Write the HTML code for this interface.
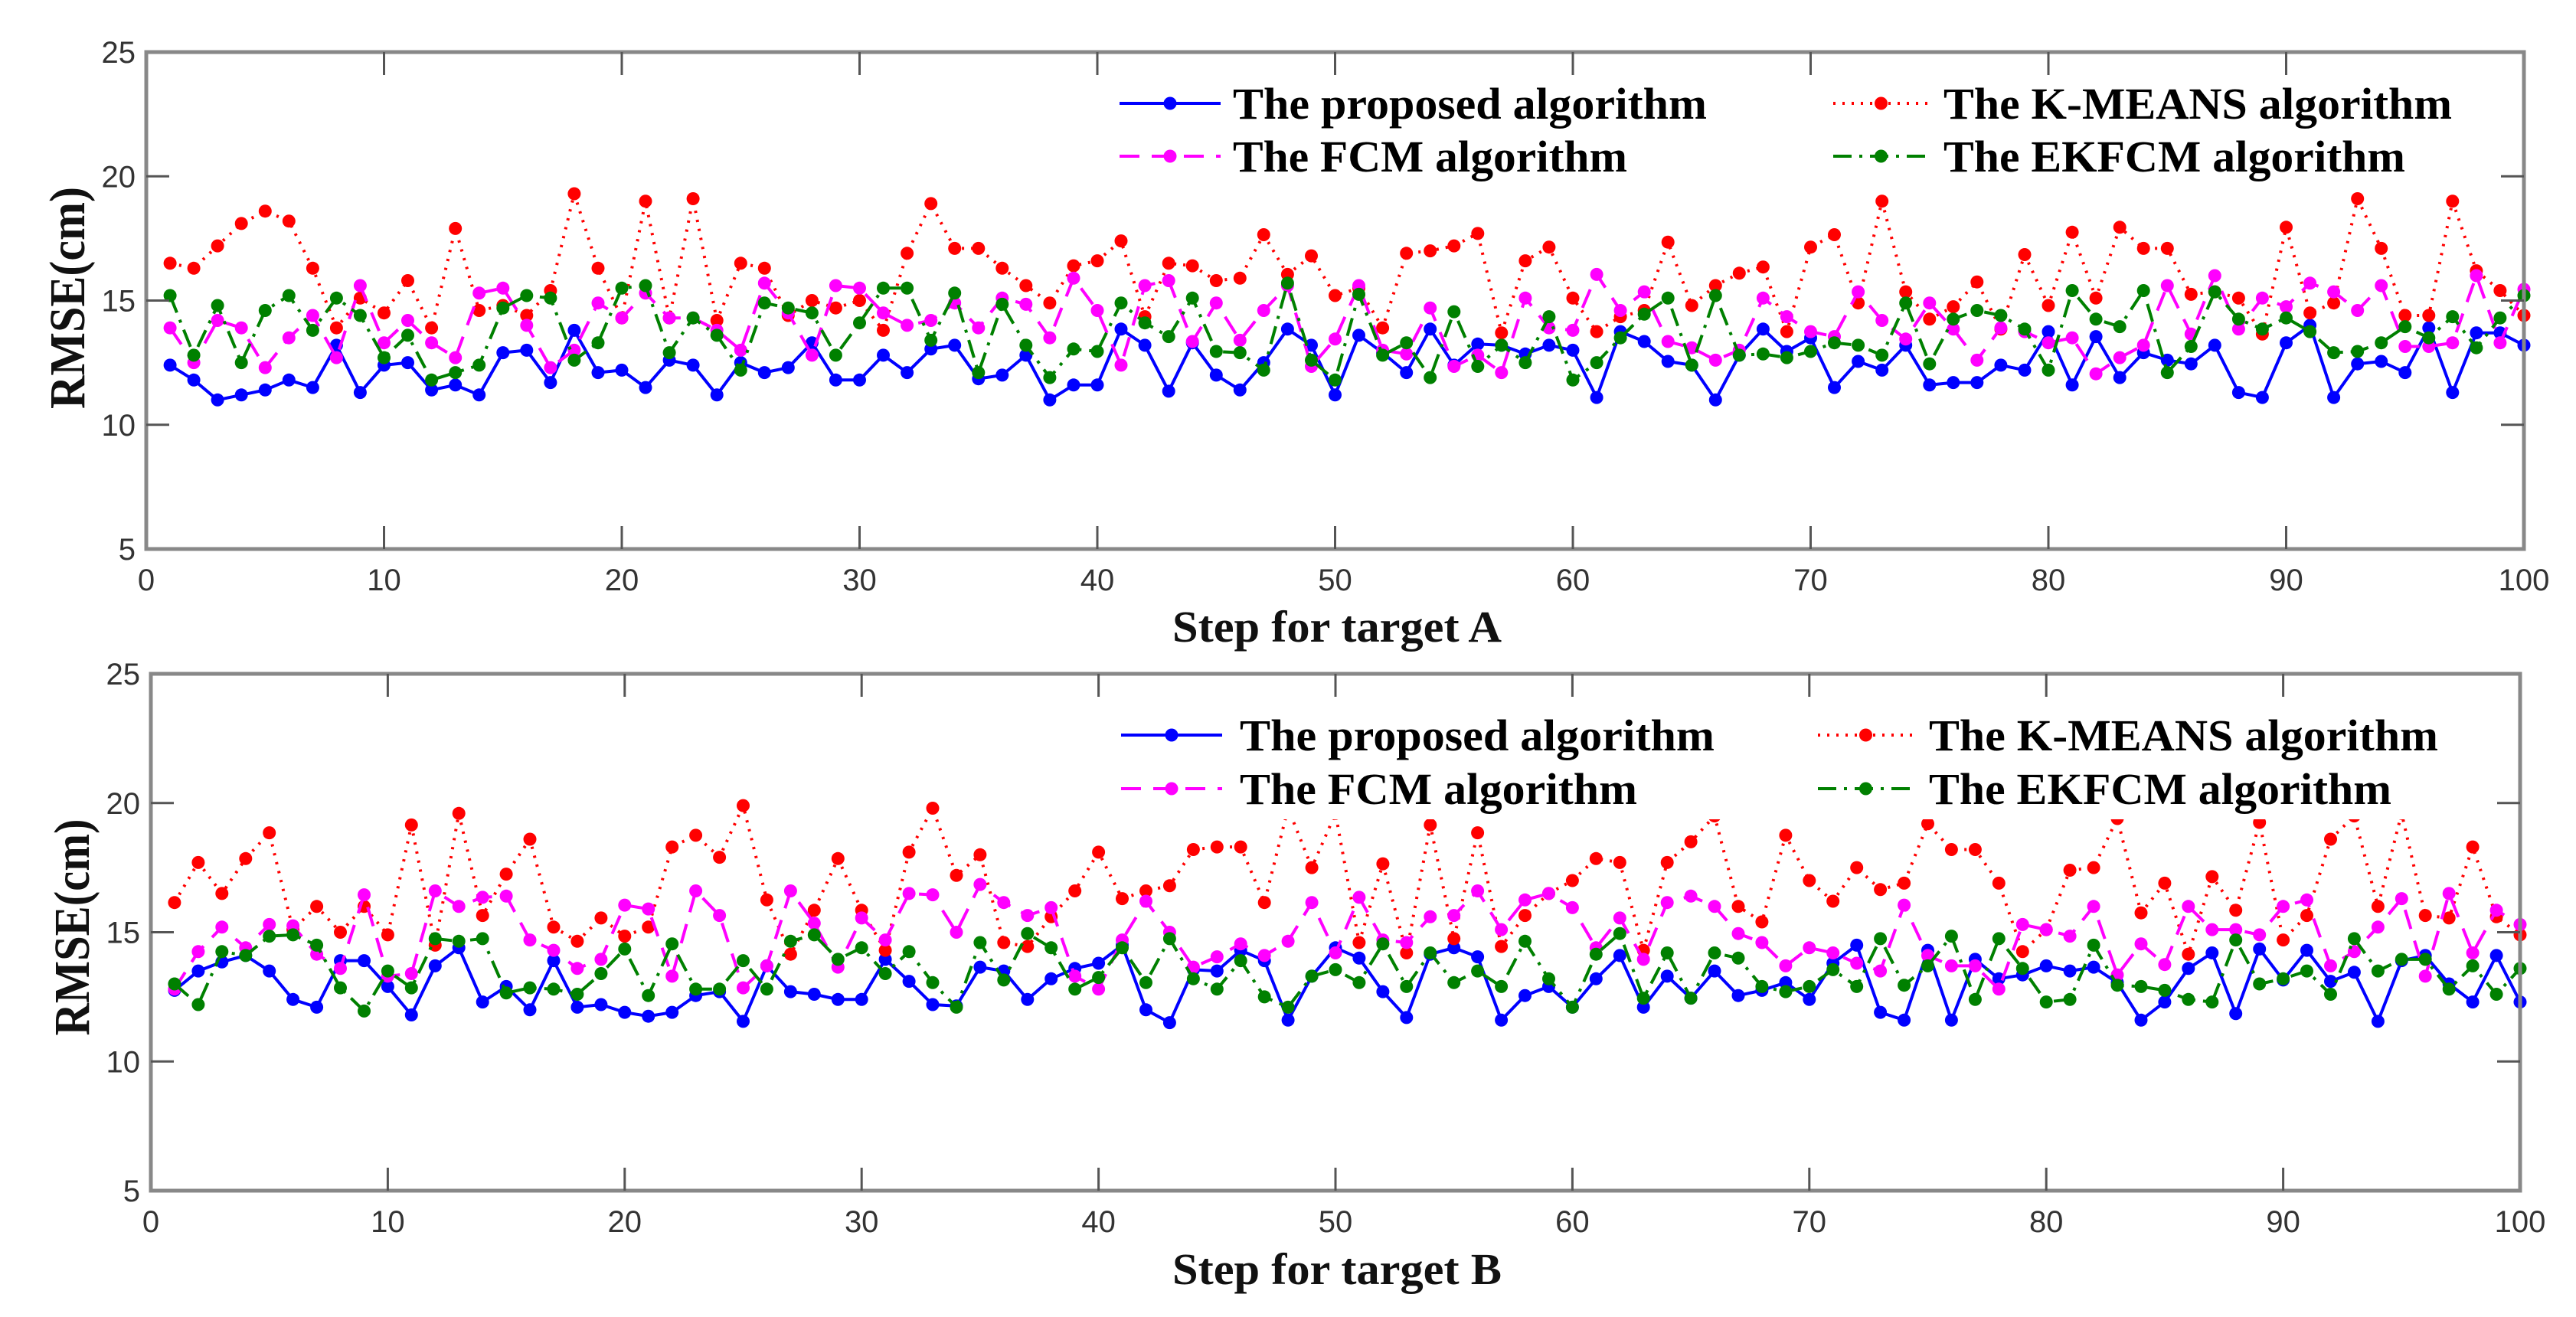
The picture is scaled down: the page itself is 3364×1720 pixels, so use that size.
<!DOCTYPE html>
<html><head><meta charset="utf-8">
<style>
html,body{margin:0;padding:0;background:#fff;}
svg{display:block;}
.tick{font-family:"Liberation Sans",sans-serif;font-size:40px;fill:#333;}
.title{font-family:"Liberation Serif",serif;font-weight:bold;font-size:58px;fill:#111;}
.ytitle{font-family:"Liberation Serif",serif;font-weight:bold;font-size:66px;fill:#111;}
.leg{font-family:"Liberation Serif",serif;font-weight:bold;font-size:58px;fill:#000;}
</style></head>
<body>
<svg id="chart" width="3364" height="1720" viewBox="0 0 3364 1720" xmlns="http://www.w3.org/2000/svg"></svg>
<script>
const steps = Array.from({length:100},(_,i)=>i+1);
const xTicks = [0,10,20,30,40,50,60,70,80,90,100];
const yTicks = [5,10,15,20,25];
const seriesNames = ["The proposed algorithm","The FCM algorithm","The K-MEANS algorithm","The EKFCM algorithm"];

const proposedA = [12.4,11.8,11.0,11.2,11.4,11.8,11.5,13.2,11.3,12.4,12.5,11.4,11.6,11.2,12.9,13.0,11.7,13.8,12.1,12.2,11.5,12.6,12.4,11.2,12.5,12.1,12.3,13.3,11.8,11.8,12.8,12.1,13.05,13.2,11.85,12.0,12.8,11.0,11.6,11.6,13.85,13.2,11.35,13.3,12.0,11.4,12.5,13.85,13.2,11.2,13.6,12.9,12.1,13.85,12.4,13.25,13.2,12.85,13.2,13.0,11.1,13.75,13.35,12.55,12.4,11.0,12.8,13.85,12.95,13.5,11.5,12.55,12.2,13.2,11.6,11.7,11.7,12.4,12.2,13.75,11.6,13.55,11.9,12.9,12.6,12.45,13.2,11.3,11.1,13.3,14.0,11.1,12.45,12.55,12.1,13.9,11.3,13.7,13.7,13.2];
const kmeansA = [16.5,16.3,17.2,18.1,18.6,18.2,16.3,13.9,15.1,14.5,15.8,13.9,17.9,14.6,14.8,14.4,15.4,19.3,16.3,14.3,19.0,14.3,19.1,14.2,16.5,16.3,14.4,15.0,14.7,15.0,13.8,16.9,18.9,17.1,17.1,16.3,15.6,14.9,16.4,16.6,17.4,14.35,16.5,16.4,15.8,15.9,17.65,16.05,16.8,15.2,15.5,13.9,16.9,17.0,17.2,17.7,13.7,16.6,17.15,15.1,13.75,14.35,14.6,17.35,14.8,15.6,16.1,16.35,13.75,17.15,17.65,14.9,19.0,15.35,14.25,14.75,15.75,13.85,16.85,14.8,17.75,15.1,17.95,17.1,17.1,15.25,15.35,15.1,13.65,17.95,14.5,14.9,19.1,17.1,14.4,14.4,19.0,16.2,15.4,14.4];
const fcmA = [13.9,12.5,14.2,13.9,12.3,13.5,14.4,12.7,15.6,13.3,14.2,13.3,12.7,15.3,15.5,14.0,12.3,13.0,14.9,14.3,15.3,14.3,14.3,13.8,13.0,15.7,14.5,12.8,15.6,15.5,14.5,14.0,14.2,14.9,13.9,15.1,14.85,13.5,15.9,14.6,12.4,15.6,15.8,13.35,14.9,13.4,14.6,15.6,12.35,13.45,15.6,13.0,12.85,14.7,12.35,12.8,12.1,15.1,13.9,13.8,16.05,14.6,15.35,13.35,13.1,12.6,13.0,15.1,14.35,13.75,13.55,15.35,14.2,13.45,14.9,13.85,12.6,13.9,13.75,13.3,13.5,12.05,12.7,13.2,15.6,13.65,16.0,13.85,15.1,14.75,15.7,15.35,14.6,15.6,13.15,13.15,13.3,16.0,13.3,15.45];
const ekfcmA = [15.2,12.8,14.8,12.5,14.6,15.2,13.8,15.1,14.4,12.7,13.6,11.8,12.1,12.4,14.7,15.2,15.1,12.6,13.3,15.5,15.6,12.9,14.3,13.6,12.2,14.9,14.7,14.5,12.8,14.1,15.5,15.5,13.4,15.3,12.1,14.85,13.2,11.9,13.05,12.95,14.9,14.1,13.55,15.1,12.95,12.9,12.2,15.7,12.6,11.8,15.25,12.8,13.3,11.9,14.55,12.35,13.2,12.5,14.35,11.8,12.5,13.5,14.45,15.1,12.4,15.2,12.8,12.85,12.7,12.95,13.3,13.2,12.8,14.9,12.45,14.25,14.6,14.4,13.85,12.2,15.4,14.25,13.95,15.4,12.1,13.15,15.35,14.25,13.85,14.3,13.75,12.9,12.95,13.3,13.95,13.5,14.35,13.1,14.3,15.2];

const proposedB = [12.75,13.5,13.85,14.1,13.5,12.4,12.1,13.9,13.9,12.9,11.8,13.7,14.4,12.3,12.9,12.0,13.9,12.1,12.2,11.9,11.75,11.9,12.55,12.7,11.55,13.7,12.7,12.6,12.4,12.4,13.95,13.1,12.2,12.15,13.65,13.5,12.4,13.2,13.6,13.8,14.5,12.0,11.5,13.55,13.5,14.3,13.9,11.6,13.3,14.4,14.0,12.7,11.7,14.15,14.4,14.05,11.6,12.55,12.9,12.1,13.2,14.1,12.1,13.3,12.45,13.5,12.55,12.75,13.05,12.4,13.8,14.5,11.9,11.6,14.3,11.6,13.95,13.2,13.35,13.7,13.5,13.65,13.05,11.6,12.3,13.6,14.2,11.85,14.35,13.15,14.3,13.1,13.45,11.55,13.9,14.1,13.0,12.3,14.1,12.3];
const kmeansB = [16.15,17.7,16.5,17.85,18.85,15.1,16.0,15.0,16.0,14.9,19.15,14.5,19.6,15.65,17.25,18.6,15.2,14.65,15.55,14.85,15.2,18.3,18.75,17.9,19.9,16.25,14.15,15.85,17.85,15.85,14.3,18.1,19.8,17.2,18.0,14.6,14.45,15.6,16.6,18.1,16.3,16.6,16.8,18.2,18.3,18.3,16.15,19.8,17.5,19.6,14.6,17.65,14.2,19.15,14.75,18.85,14.45,15.65,16.5,17.0,17.85,17.7,14.3,17.7,18.5,19.5,16.0,15.4,18.75,17.0,16.2,17.5,16.65,16.9,19.2,18.2,18.2,16.9,14.25,15.1,17.4,17.5,19.4,15.75,16.9,14.15,17.15,15.85,19.25,14.7,15.65,18.6,19.5,16.0,19.6,15.65,15.55,18.3,15.6,14.9];
const fcmB = [12.8,14.25,15.2,14.4,15.3,15.25,14.15,13.6,16.45,13.3,13.4,16.6,16.0,16.35,16.4,14.7,14.3,13.6,13.95,16.05,15.9,13.3,16.6,15.65,12.85,13.7,16.6,15.35,13.65,15.55,14.7,16.5,16.45,15.0,16.85,16.15,15.65,15.95,13.3,12.8,14.7,16.2,15.0,13.65,14.05,14.55,14.1,14.65,16.15,14.2,16.35,14.7,14.6,15.6,15.65,16.6,15.1,16.25,16.5,15.95,14.4,15.55,13.95,16.15,16.4,16.0,14.95,14.6,13.7,14.4,14.2,13.8,13.5,16.05,14.1,13.7,13.7,12.8,15.3,15.1,14.85,16.0,13.35,14.55,13.75,16.0,15.1,15.1,14.9,16.0,16.25,13.7,14.25,15.2,16.3,13.3,16.5,14.2,15.85,15.3];
const ekfcmB = [13.0,12.2,14.25,14.1,14.85,14.9,14.5,12.85,11.95,13.5,12.85,14.75,14.65,14.75,12.65,12.85,12.8,12.6,13.4,14.35,12.55,14.55,12.8,12.8,13.9,12.8,14.65,14.9,13.95,14.4,13.4,14.25,13.05,12.1,14.6,13.15,14.95,14.4,12.8,13.25,14.4,13.05,14.75,13.2,12.8,13.9,12.5,12.1,13.3,13.55,13.05,14.55,12.9,14.2,13.05,13.5,12.9,14.65,13.2,12.1,14.15,14.95,12.45,14.2,12.45,14.2,14.0,12.9,12.7,12.9,13.55,12.9,14.75,12.95,13.7,14.85,12.4,14.75,13.6,12.3,12.4,14.5,12.95,12.9,12.75,12.4,12.3,14.7,13.0,13.2,13.5,12.6,14.75,13.5,13.95,13.95,12.8,13.7,12.6,13.6];

const NS = "http://www.w3.org/2000/svg";
const svg = document.getElementById("chart");
function mk(tag, attrs, parent){
  const e = document.createElementNS(NS, tag);
  for (const k in attrs) e.setAttribute(k, attrs[k]);
  (parent||svg).appendChild(e);
  return e;
}

const styles = [
  {color:"#0000ff", dash:"", name:"proposed"},
  {color:"#ff00ff", dash:"26 16", name:"fcm"},
  {color:"#ff0000", dash:"3 9", name:"kmeans"},
  {color:"#008000", dash:"24 10 4 10", name:"ekfcm"}
];

function drawPanel(cfg){
  const {left,right,top,bottom,data,label,key,legendY,legendBox} = cfg;
  const g = mk("g",{});
  
  
  const xs = v => left + (v-0)/(100-0)*(right-left);
  const ys = v => bottom - (v-5)/(25-5)*(bottom-top);

  const order = [0,2,1,3];
  order.forEach(si=>{
    const vals = data[si], st = styles[si];
    const sg = mk("g",{}, g);
    
    
    const pts = steps.map((s,i)=>xs(s).toFixed(1)+","+ys(vals[i]).toFixed(1)).join(" ");
    const pl = mk("polyline",{points:pts, fill:"none", stroke:st.color, "stroke-width":4, "stroke-dasharray":st.dash, "stroke-linejoin":"round"}, sg);
    
    
    steps.forEach((s,i)=>{
      const c = mk("circle",{cx:xs(s).toFixed(1), cy:ys(vals[i]).toFixed(1), r:8.5, fill:st.color}, sg);
      
      
    });
  });

  const lb = mk("rect",{x:legendBox[0], y:legendBox[1], width:legendBox[2], height:legendBox[3], fill:"#fff"}, g);
  
  
  const legPos = [
    {x1:cfg.legX1, x2:cfg.legX1+132, tx:cfg.legTx1, y:legendY[0]},
    {x1:cfg.legX1, x2:cfg.legX1+132, tx:cfg.legTx1, y:legendY[1]},
    {x1:cfg.legX2, x2:cfg.legX2+125, tx:cfg.legTx2, y:legendY[0]},
    {x1:cfg.legX2, x2:cfg.legX2+125, tx:cfg.legTx2, y:legendY[1]}
  ];
  [0,1,2,3].forEach(si=>{
    const p = legPos[si], st = styles[si];
    const lg = mk("g",{}, g);
    
    
    mk("line",{x1:p.x1,y1:p.y,x2:p.x2,y2:p.y,stroke:st.color,"stroke-width":4,"stroke-dasharray":st.dash}, lg);
    mk("circle",{cx:(p.x1+p.x2)/2, cy:p.y, r:8.5, fill:st.color}, lg);
    const t = mk("text",{x:p.tx, y:p.y+20, class:"leg", textLength:cfg.legW[si], lengthAdjust:"spacingAndGlyphs"}, lg);
    t.textContent = seriesNames[si];
  });

  const box = mk("rect",{x:left,y:top,width:right-left,height:bottom-top,fill:"none",stroke:"#888","stroke-width":5}, g);
  
  

  xTicks.forEach(v=>{
    const x = xs(v);
    if (v>0 && v<100){
      mk("line",{x1:x,y1:bottom,x2:x,y2:bottom-30,stroke:"#555","stroke-width":3}, g);
      mk("line",{x1:x,y1:top,x2:x,y2:top+30,stroke:"#555","stroke-width":3}, g);
    }
    const t = mk("text",{x:x, y:bottom+54, class:"tick", "text-anchor":"middle"}, g);
    
    
    t.textContent = v;
  });
  yTicks.forEach(v=>{
    const y = ys(v);
    if (v>5 && v<25){
      mk("line",{x1:left,y1:y,x2:left+30,y2:y,stroke:"#555","stroke-width":3}, g);
      mk("line",{x1:right,y1:y,x2:right-30,y2:y,stroke:"#555","stroke-width":3}, g);
    }
    const t = mk("text",{x:left-14, y:y+14, class:"tick", "text-anchor":"end"}, g);
    
    
    t.textContent = v;
  });
  const xt = mk("text",{x:1746, y:cfg.xTitleY, class:"title", "text-anchor":"middle", textLength:430, lengthAdjust:"spacingAndGlyphs"}, g);
  
  
  xt.textContent = label;
  const yt = mk("text",{x:0, y:0, class:"ytitle", "text-anchor":"middle", textLength:cfg.yTitleLen, lengthAdjust:"spacingAndGlyphs", transform:"translate("+(cfg.yTitleX)+","+(cfg.yTitleCy)+") rotate(-90)"}, g);
  
  
  yt.textContent = "RMSE(cm)";
}

drawPanel({left:191,right:3296,top:68,bottom:717,key:"a",label:"Step for target A",
  data:[proposedA,fcmA,kmeansA,ekfcmA], legendY:[135,204], legX1:1462, legX2:2394,
  legTx1:1610, legTx2:2538, legW:[619,515,664,603],
  legendBox:[1440,84,1830,160], xTitleY:838, yTitleX:110, yTitleCy:389, yTitleLen:290});
drawPanel({left:197,right:3291,top:880,bottom:1555,key:"b",label:"Step for target B",
  data:[proposedB,fcmB,kmeansB,ekfcmB], legendY:[960,1030], legX1:1464, legX2:2374,
  legTx1:1619, legTx2:2519, legW:[620,519,665,604],
  legendBox:[1440,900,1830,170], xTitleY:1677, yTitleX:116, yTitleCy:1211, yTitleLen:283});
</script>
</body></html>
